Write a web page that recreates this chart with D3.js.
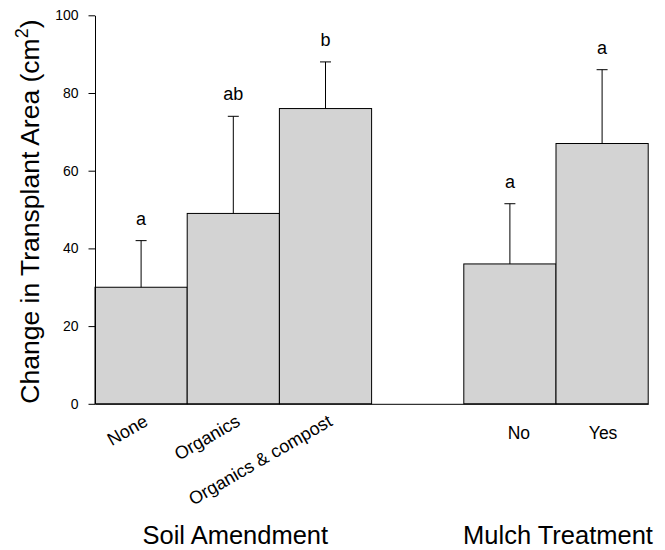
<!DOCTYPE html>
<html>
<head>
<meta charset="utf-8">
<script src="https://cdn.jsdelivr.net/npm/d3@7"></script>
<style>
  html, body { margin: 0; padding: 0; background: #fff; }
  svg { display: block; font-family: "Liberation Sans", Arial, sans-serif; }
</style>
</head>
<body>
<svg id="chart" width="665" height="550"></svg>
<script>
// ---- data ----
const categories = ["None", "Organics", "Organics & compost", "No", "Yes"];
const groupOf    = ["Soil Amendment", "Soil Amendment", "Soil Amendment", "Mulch Treatment", "Mulch Treatment"];
const means      = [30, 49, 76, 36, 67];
const upperErr   = [42, 74, 88, 51.5, 86];
const letters    = ["a", "ab", "b", "a", "a"];
const yTicks     = [0, 20, 40, 60, 80, 100];
const groupNames = ["Soil Amendment", "Mulch Treatment"];
const rotatedGroup = "Soil Amendment";
const yTitle = "Change in Transplant Area (cm";

// ---- layout ----
const svg = d3.select("#chart");
const GAP = "__gap__";
const slots = [categories[0], categories[1], categories[2], GAP, categories[3], categories[4]];
const x = d3.scaleBand().domain(slots).range([95, 648.2]).padding(0);
const y = d3.scaleLinear().domain([0, 100]).range([403.8, 15.3]);

const rows = categories.map((c, i) => ({c, g: groupOf[i], m: means[i], e: upperErr[i], l: letters[i]}));

// bars
svg.append("g").selectAll("rect").data(rows).join("rect")
  .attr("x", d => x(d.c))
  .attr("y", d => y(d.m))
  .attr("width", x.bandwidth())
  .attr("height", d => y(0) - y(d.m))
  .attr("fill", "#d3d3d3")
  .attr("stroke", "#000")
  .attr("stroke-width", 1);

// error bars (upper only)
const eb = svg.append("g").attr("stroke", "#000").attr("stroke-width", 1);
eb.selectAll("line.v").data(rows).join("line").attr("class", "v")
  .attr("x1", d => x(d.c) + x.bandwidth() / 2)
  .attr("x2", d => x(d.c) + x.bandwidth() / 2)
  .attr("y1", d => y(d.m))
  .attr("y2", d => y(d.e));
eb.selectAll("line.cap").data(rows).join("line").attr("class", "cap")
  .attr("x1", d => x(d.c) + x.bandwidth() / 2 - 5.5)
  .attr("x2", d => x(d.c) + x.bandwidth() / 2 + 5.5)
  .attr("y1", d => y(d.e))
  .attr("y2", d => y(d.e));

// significance letters
svg.append("g").selectAll("text").data(rows).join("text")
  .attr("x", d => x(d.c) + x.bandwidth() / 2)
  .attr("y", d => y(d.e) - 16)
  .attr("text-anchor", "middle")
  .attr("font-size", 18)
  .attr("fill", "#000")
  .text(d => d.l);

// y axis
const yAxis = svg.append("g")
  .attr("transform", `translate(${x.range()[0]},0)`)
  .call(d3.axisLeft(y).tickValues(yTicks).tickSize(6.5).tickSizeOuter(0).tickPadding(10).tickFormat(d3.format("d")));
yAxis.selectAll("text").attr("font-size", 14).attr("fill", "#000").attr("font-family", "Liberation Sans, Arial, sans-serif");
yAxis.selectAll("line, path").attr("stroke", "#000");

// x axis (baseline only)
const xAxis = svg.append("g")
  .attr("transform", `translate(0,${y(0)})`)
  .call(d3.axisBottom(x).tickSize(0).tickSizeOuter(0).tickFormat(""));
xAxis.select("path").attr("stroke", "#000");
xAxis.selectAll(".tick").remove();

// category labels
const labelNudge = {"No": 9, "Yes": 1};
const lab = svg.append("g").attr("fill", "#000");
lab.selectAll("text.rot").data(rows.filter(d => d.g === rotatedGroup)).join("text").attr("class", "rot")
  .attr("text-anchor", "end")
  .attr("font-size", 18)
  .attr("transform", d => `translate(${x(d.c) + x.bandwidth() / 2 + 8},${y(0) + 21}) rotate(-30)`)
  .text(d => d.c);
lab.selectAll("text.flat").data(rows.filter(d => d.g !== rotatedGroup)).join("text").attr("class", "flat")
  .attr("text-anchor", "middle")
  .attr("font-size", 17.5)
  .attr("x", d => x(d.c) + x.bandwidth() / 2 + (labelNudge[d.c] || 0))
  .attr("y", y(0) + 35.5)
  .text(d => d.c);

// group labels
svg.append("g").selectAll("text").data(groupNames).join("text")
  .attr("text-anchor", "middle")
  .attr("font-size", 25.5)
  .attr("fill", "#000")
  .attr("x", g => {
    const members = rows.filter(d => d.g === g);
    const x0 = x(members[0].c), x1 = x(members[members.length - 1].c) + x.bandwidth();
    return (x0 + x1) / 2 + 2;
  })
  .attr("y", 544)
  .text(g => g);

// y title
const t = svg.append("text")
  .attr("transform", `translate(39,${(y(0) + y(100)) / 2 + 2}) rotate(-90)`)
  .attr("text-anchor", "middle")
  .attr("font-size", 26.5)
  .attr("fill", "#000");
t.append("tspan").text(yTitle);
t.append("tspan").attr("font-size", 18).attr("dy", -11).text("2");
t.append("tspan").attr("dy", 11).text(")");
</script>
</body>
</html>
